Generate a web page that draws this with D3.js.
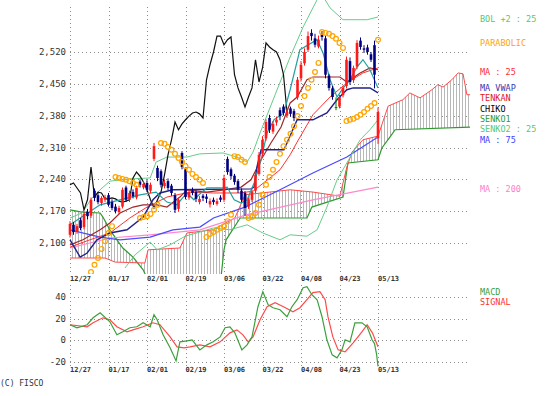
<!DOCTYPE html>
<html>
<head>
<meta charset="utf-8">
<script src="https://cdn.jsdelivr.net/npm/d3@7"></script>
<style>
  body { margin: 0; background: #fff; }
  text { font-family: "DejaVu Sans Mono", monospace; }
</style>
</head>
<body>
<svg id="chart" width="548" height="396"></svg>
<script>
// ---- data (day index 0 = 12/27, 88 = 05/13, cloud runs 26 days ahead) ----
const dateTicks = [[0, "12/27"], [11, "01/17"], [22, "02/01"], [33, "02/19"], [44, "03/06"],
                   [55, "03/22"], [66, "04/08"], [77, "04/23"], [88, "05/13"]];
const priceTicks = [2100, 2170, 2240, 2310, 2380, 2450, 2520];
const macdTicks = [-20, 0, 20, 40];

// open, high, low, close
const candles = [
  [2118,2148,2112,2142],[2140,2146,2118,2124],[2125,2142,2120,2137],[2150,2155,2128,2133],
  [2135,2170,2130,2164],[2168,2175,2152,2159],[2160,2200,2155,2195],[2215,2220,2192,2199],
  [2205,2210,2185,2190],[2188,2203,2182,2199],[2196,2206,2190,2201],[2205,2210,2180,2184],
  [2190,2196,2172,2177],[2180,2186,2165,2170],[2168,2182,2163,2177],[2180,2222,2176,2217],
  [2222,2226,2190,2195],[2195,2215,2190,2210],[2212,2218,2198,2203],[2200,2226,2196,2221],
  [2235,2240,2222,2228],[2222,2236,2218,2230],[2232,2238,2212,2217],[2215,2233,2210,2228],
  [2285,2320,2280,2313],[2265,2270,2236,2243],[2258,2262,2222,2228],[2225,2240,2220,2232],
  [2236,2242,2216,2221],[2226,2230,2204,2210],[2205,2210,2166,2173],[2175,2200,2170,2195],
  [2298,2302,2262,2267],[2262,2266,2196,2201],[2200,2218,2195,2212],[2215,2222,2205,2210],
  [2212,2216,2190,2197],[2190,2203,2185,2197],[2204,2208,2192,2199],[2202,2208,2188,2197],
  [2185,2198,2178,2192],[2195,2200,2184,2190],[2186,2198,2182,2192],[2200,2205,2190,2195],
  [2195,2250,2190,2243],[2285,2290,2250,2256],[2262,2266,2240,2247],[2248,2252,2228,2234],
  [2236,2240,2210,2217],[2215,2220,2190,2195],[2210,2214,2160,2177],[2180,2200,2175,2195],
  [2195,2218,2190,2212],[2215,2255,2210,2250],[2252,2300,2248,2294],[2296,2335,2290,2327],
  [2330,2372,2325,2366],[2375,2382,2342,2349],[2345,2368,2340,2362],[2365,2378,2358,2371],
  [2392,2398,2370,2379],[2400,2405,2380,2386],[2380,2395,2375,2388],[2396,2400,2378,2384],
  [2390,2395,2368,2375],[2420,2465,2415,2459],[2462,2500,2455,2492],[2495,2528,2490,2520],
  [2525,2565,2520,2555],[2562,2570,2545,2555],[2550,2560,2530,2536],[2532,2556,2528,2547],
  [2560,2566,2545,2553],[2550,2556,2462,2470],[2468,2472,2435,2441],[2440,2445,2415,2421],
  [2399,2420,2392,2399],[2400,2426,2396,2421],[2425,2446,2420,2441],[2445,2510,2440,2503],
  [2500,2508,2448,2454],[2458,2490,2452,2485],[2488,2546,2482,2540],[2545,2552,2525,2531],
  [2528,2535,2518,2525],[2530,2536,2514,2520],[2515,2520,2498,2503],[2535,2545,2440,2470],
  [2330,2398,2318,2388]
];

// [day, value] readings
const ma25 = [[0,2091],[5.7,2107],[11.4,2122],[17.1,2155],[22,2179],[27.7,2201],[34.3,2212],
  [40.9,2210],[48.6,2210],[52.3,2214],[57.1,2243],[60,2261],[62.9,2294],[64.9,2322],
  [69.4,2382],[74.3,2421],[79.1,2452],[83.7,2474],[88,2485]];
const ma75 = [[0,2129],[8.6,2113],[14.3,2107],[22.9,2113],[29.4,2129],[37.1,2135],[41,2155],
  [50,2179],[60,2217],[69.4,2254],[79.1,2289],[88,2333]];
const ma200 = [[0,2089],[11.4,2111],[22.9,2118],[37.1,2129],[50.3,2162],[69.4,2195],[88,2223]];
const bolUpper = [[0,2155],[3.4,2166],[6.3,2199],[8.6,2217],[11.4,2236],[17.1,2241],[22.9,2243],
  [24.6,2278],[27.7,2289],[33.4,2289],[37.1,2296],[43.7,2298],[47.7,2289],[50.6,2278],
  [52.3,2300],[54.3,2342],[58.6,2426],[62.9,2509],[66.6,2575],[70.6,2635],[72,2646],
  [74.3,2617],[78,2591],[84.9,2591],[88,2597]];
const bolLower = [[15.7,2045],[18.6,2074],[22.9,2102],[24.9,2085],[28.6,2096],[32.9,2115],
  [37.1,2124],[40.9,2133],[45.7,2129],[50.6,2140],[55.1,2122],[60,2107],[62.9,2118],
  [67.7,2115],[70.6,2129],[73.4,2179],[76.3,2239],[79.1,2276],[82.9,2327],[85.7,2349],[88,2371]];
const senko1 = [[0,2067],[10,2067],[12.9,2058],[21.4,2056],[22.3,2085],[31.4,2089],[33.4,2122],
  [40.9,2129],[47.1,2155],[50,2206],[62.9,2217],[69.4,2212],[77.1,2203],[79.1,2267],
  [80.6,2300],[83.7,2327],[88,2335],[90.9,2401],[95.1,2415],[97.1,2430],[100,2419],
  [103.4,2437],[105.1,2448],[106.6,2443],[109.1,2459],[110.9,2474],[112.3,2472],
  [113.4,2426],[114.3,2426]];
const senko2 = [[0,2173],[3.4,2168],[8.6,2166],[9.4,2157],[11.4,2129],[13.4,2107],[15.1,2089],
  [18,2069],[20.9,2041],[22.9,2008],[42.9,2008],[44,2085],[44.6,2107],[48.3,2151],
  [48.6,2155],[67.7,2155],[69.1,2179],[78,2201],[79.4,2276],[88,2283],[89.1,2309],
  [91.4,2333],[92.9,2349],[114.3,2355]];
const tenkan = [[0,2096],[3.7,2107],[8.6,2129],[11.4,2144],[14.3,2166],[18,2179],[20.9,2184],
  [24.9,2184],[27.7,2179],[31.4,2201],[33.4,2217],[39.1,2212],[44,2217],[48.9,2223],
  [51.7,2239],[54.6,2283],[57.4,2320],[60.3,2355],[62.9,2408],[64.9,2421],[67.7,2459],
  [69.4,2465],[77.1,2465],[79.1,2454],[82.9,2474],[85.7,2485],[88,2481]];
const vwap = [[0,2107],[2.9,2069],[4.9,2078],[7.7,2107],[11.4,2122],[16.3,2129],[20.9,2157],
  [23.7,2195],[25.7,2210],[29.4,2217],[51.7,2219],[52.6,2223],[53.4,2267],[54.6,2305],
  [61.1,2305],[62,2320],[64.9,2371],[69.4,2371],[73.4,2386],[76.3,2415],[79.1,2437],
  [80.9,2441],[85.7,2441],[88,2430]];
const kijun = [[0,2140],[4.3,2162],[8.6,2184],[14.3,2195],[20,2206],[24.6,2212],[27.7,2190],
  [30.6,2184],[31.7,2195],[33.4,2210],[35.4,2195],[37.4,2210],[39.1,2221],[43.1,2221],
  [44.9,2223],[46.9,2195],[48.9,2188],[50.6,2195],[52.6,2232],[54.6,2283],[56.3,2342],
  [58.3,2371],[61.1,2386],[62.9,2437],[65.7,2525],[70.6,2547],[72.3,2518],[74.3,2459],
  [76.3,2421],[77.7,2437],[80,2459],[82,2487],[83.7,2503],[85.7,2481],[88,2441]];
const parabolic = [[6,2036],[7,2052],[8,2067],[9,2087],[10,2104],[11,2122],[12,2137],
  [13,2245],[14,2243],[15,2241],[16,2239],[17,2236],[18,2232],[19,2228],
  [20,2155],[21,2157],[22,2159],[23,2164],[24,2173],[25,2184],
  [26,2320],[27,2318],[28,2311],[29,2305],[30,2296],[31,2287],[32,2278],[33,2269],
  [34,2261],[35,2252],[36,2245],[37,2239],[38,2232],
  [39,2113],[40,2120],[41,2124],[42,2129],[43,2133],[44,2137],[45,2148],[46,2162],
  [47,2291],[48,2289],[49,2283],[50,2278],
  [51,2155],[52,2157],[53,2166],[54,2184],[55,2206],[56,2228],[57,2245],[58,2261],
  [59,2278],[60,2296],[61,2313],[62,2327],[63,2340],[64,2357],[65,2379],[66,2401],
  [67,2423],[68,2441],[69,2459],[70,2476],[71,2496],
  [72,2564],[73,2562],[74,2560],[75,2555],[76,2549],[77,2540],[78,2529],
  [79,2368],[80,2371],[81,2373],[82,2377],[83,2382],[84,2388],[85,2395],[86,2401],[87,2408],
  [88,2547]];
const macd = [[0,14.4],[2,11.6],[4.9,14.4],[6.6,20.8],[8.6,25.5],[11.4,17.1],[13.4,5.1],
  [15.1,7.9],[17.1,11.6],[19.1,12.5],[20.9,16.2],[22.9,12.5],[24,23.6],[24.9,19],[26.6,5.1],
  [28.6,-6.9],[30.3,-19],[31.4,-1.4],[33.4,-0.5],[34.9,0.5],[37.1,-8.8],[39.1,-4.2],
  [40.9,-1.4],[42.9,3.2],[44.3,11.6],[45.7,12.5],[47.1,6.9],[49.1,-8.8],[50.6,-4.2],[52,3.2],
  [53.7,31],[55.1,44.9],[56.6,32.9],[58,30.1],[60,28.2],[62,21.8],[63.4,31],[64.9,37.5],
  [66.6,48.6],[67.7,49.5],[69.1,42.1],[70.6,37.5],[72,21.8],[73.4,0.5],[74.9,-13.4],
  [76.3,-16.2],[77.7,-8.8],[78.6,0.5],[80,-1.4],[81.4,16.2],[83.4,16.2],[84.9,12.5],
  [86.3,0.5],[87,-3],[87.6,-13],[88,-24]];
const signal = [[0,14.4],[4.9,12.5],[6.6,16.2],[9.4,20.8],[11.4,19],[13.4,12.5],[16.3,7.9],
  [18,9.7],[20.9,12.5],[23.7,16.2],[25.7,14.4],[28.6,3.2],[30.6,-6],[32.6,-6.9],[34.3,-6],
  [37.1,-4.2],[40,-6],[42.9,-1.4],[45.7,6.9],[47.7,9.7],[49.4,5.1],[50.9,-1.4],[52.3,3.2],
  [54.3,19],[56.3,31],[58.6,34.7],[61,31],[63.7,26.4],[65.7,30.1],[67.7,37.5],[69.4,44],
  [71.4,44.9],[72.9,37.5],[73.7,21.8],[75.1,3.2],[76.6,-8.8],[78.6,-10.6],[80.9,-2.3],
  [83.4,7.9],[84.9,14.4],[86.4,6.9],[88,-6]];

const legend = [
  ["BOL +2 : 25", "#55c878", 19], ["PARABOLIC", "#ffa500", 43], ["MA : 25", "#ff3030", 72],
  ["MA VWAP", "#3838b0", 88], ["TENKAN", "#e01818", 98], ["CHIKO", "#000", 109],
  ["SENKO1", "#2e9a2e", 119], ["SENKO2 : 25", "#55c878", 129], ["MA : 75", "#4040ff", 140],
  ["MA : 200", "#ff80c8", 189], ["MACD", "#3ca03c", 292], ["SIGNAL", "#ff3030", 302]
];

// ---- drawing ----
const svg = d3.select("#chart");
svg.append("rect").attr("width", 548).attr("height", 396).attr("fill", "#fff");

const x = d3.scaleLinear().domain([0, 88]).range([70, 378]);
const y = d3.scaleLinear().domain([2100, 2520]).range([243, 52]);
const ym = d3.scaleLinear().domain([-20, 40]).range([362, 297]);

const defs = svg.append("defs");
defs.append("clipPath").attr("id", "mainClip")
  .append("rect").attr("x", 0).attr("y", 0).attr("width", 548).attr("height", 274);
const pat = defs.append("pattern").attr("id", "hatch")
  .attr("width", 3).attr("height", 4).attr("patternUnits", "userSpaceOnUse");
pat.append("line").attr("x1", 0.5).attr("x2", 0.5).attr("y1", 0).attr("y2", 4)
  .attr("stroke", "#b8b8b8").attr("stroke-width", 1);

// grid
const grid = svg.append("g").attr("stroke", "#8c8c8c").attr("stroke-dasharray", "1,3");
grid.selectAll(".hp").data(priceTicks).join("line")
  .attr("x1", 70).attr("x2", 470).attr("y1", d => Math.round(y(d)) + 0.5).attr("y2", d => Math.round(y(d)) + 0.5);
grid.selectAll(".hm").data(macdTicks).join("line")
  .attr("x1", 70).attr("x2", 470).attr("y1", d => Math.round(ym(d)) + 0.5).attr("y2", d => Math.round(ym(d)) + 0.5);
grid.selectAll(".vp").data(dateTicks).join("line")
  .attr("x1", d => Math.round(x(d[0])) + 0.5).attr("x2", d => Math.round(x(d[0])) + 0.5)
  .attr("y1", 7).attr("y2", 274);
grid.selectAll(".vm").data(dateTicks).join("line")
  .attr("x1", d => Math.round(x(d[0])) + 0.5).attr("x2", d => Math.round(x(d[0])) + 0.5)
  .attr("y1", 285).attr("y2", 367);

// axis labels
const lab = svg.append("g").attr("fill", "#333");
lab.selectAll(".py").data(priceTicks).join("text")
  .attr("x", 66).attr("y", d => y(d)).attr("dy", "0.35em").attr("text-anchor", "end")
  .attr("font-size", 9).text(d => d3.format(",")(d));
lab.selectAll(".my").data(macdTicks).join("text")
  .attr("x", 66).attr("y", d => ym(d)).attr("dy", "0.35em").attr("text-anchor", "end")
  .attr("font-size", 9).text(d => d);
[281, 372].forEach(ty => {
  lab.append("g").selectAll("text").data(dateTicks).join("text")
    .attr("x", d => x(d[0])).attr("y", ty).attr("font-size", 7).attr("font-weight", "bold")
    .text(d => d[1]);
});
lab.append("text").attr("x", 0).attr("y", 386).attr("font-size", 8).text("(C) FISCO");

// main panel
const main = svg.append("g").attr("clip-path", "url(#mainClip)");
const line = d3.line().x(d => x(d[0])).y(d => y(d[1]));

const cloudPts = senko1.map(d => [x(d[0]), y(d[1])])
  .concat(senko2.slice().reverse().map(d => [x(d[0]), y(d[1])]));
main.append("path").attr("d", d3.line()(cloudPts) + "Z").attr("fill", "url(#hatch)");

function drawLine(data, color, w) {
  main.append("path").datum(data).attr("d", line)
    .attr("fill", "none").attr("stroke", color).attr("stroke-width", w || 1);
}
function closesChiko() {
  return candles.slice(26).map((c, k) => [k, c[3]]);
}
drawLine(senko2, "#2e9a2e", 1.2);
drawLine(senko1, "#ff4a4a", 1);
drawLine(ma200, "#ff88cc", 1.2);
drawLine(ma75, "#4a4aff", 1.2);
drawLine(bolUpper, "#66cc88", 1);
drawLine(bolLower, "#66cc88", 1);
drawLine(ma25, "#ff3030", 1);
drawLine(closesChiko(), "#111", 1.2);
drawLine(tenkan, "#a02828", 1.2);
drawLine(vwap, "#22228a", 1.4);
drawLine(kijun, "#22a0a0", 1.2);

// candles
const cg = main.append("g");
const candleColor = c => c[3] > c[0] ? "#ff1a1a" : (c[3] < c[0] ? "#000080" : "#008000");
cg.selectAll(".wick").data(candles).join("line")
  .attr("x1", (d, i) => x(i)).attr("x2", (d, i) => x(i))
  .attr("y1", d => y(d[1])).attr("y2", d => y(d[2]))
  .attr("stroke", candleColor).attr("stroke-width", 1);
cg.selectAll(".body").data(candles).join("rect")
  .attr("x", (d, i) => x(i) - 1.3).attr("width", 2.6)
  .attr("y", d => y(Math.max(d[0], d[3])))
  .attr("height", d => Math.max(1, Math.abs(y(d[0]) - y(d[3]))))
  .attr("fill", candleColor);

// parabolic SAR
main.append("g").selectAll("circle").data(parabolic).join("circle")
  .attr("cx", d => x(d[0])).attr("cy", d => y(d[1])).attr("r", 2.4)
  .attr("fill", "none").attr("stroke", "#ffa500").attr("stroke-width", 1.2);

// MACD panel
const mline = d3.line().x(d => x(d[0])).y(d => ym(d[1]));
svg.append("path").datum(signal).attr("d", mline).attr("fill", "none")
  .attr("stroke", "#ff4a4a").attr("stroke-width", 1.2);
svg.append("path").datum(macd).attr("d", mline).attr("fill", "none")
  .attr("stroke", "#3ca03c").attr("stroke-width", 1.2);

// legend
svg.append("g").selectAll("text").data(legend).join("text")
  .attr("x", 480).attr("y", d => d[2]).attr("dy", "0.35em")
  .attr("font-size", 8.5).attr("fill", d => d[1]).text(d => d[0]);
</script>
</body>
</html>
